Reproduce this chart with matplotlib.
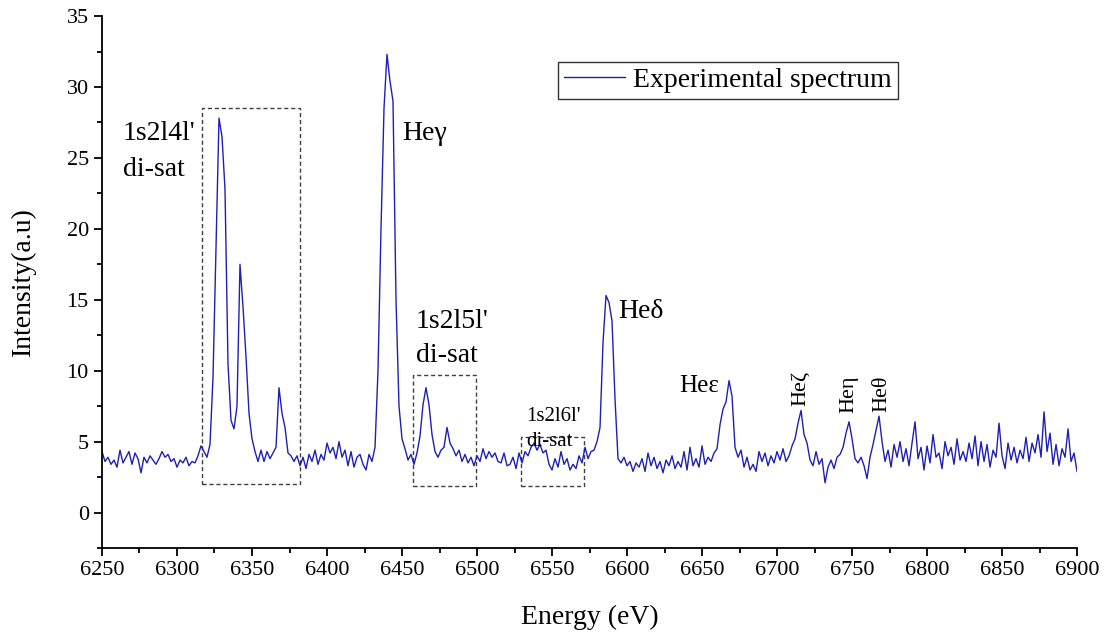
import numpy as np
import matplotlib
matplotlib.use("Agg")
import matplotlib.pyplot as plt
from matplotlib.patches import Rectangle
from matplotlib.ticker import MultipleLocator

plt.rcParams['font.family'] = ['Liberation Serif', 'DejaVu Serif']

# spectrum, 2 eV step starting at 6250 eV
e_start = 6250
e_step = 2
seg_6250 = [4.3, 3.6, 3.9, 3.4, 3.7, 3.2, 4.4, 3.5, 3.9, 4.3,
            3.4, 4.2, 3.8, 2.8, 3.9, 3.5, 4.0, 3.7, 3.4, 3.8,
            4.3, 3.9, 4.1, 3.6, 3.8, 3.2, 3.7, 3.5, 3.9, 3.3,
            3.6, 3.5, 4.0, 4.7]
seg_6318 = [4.3, 3.9, 4.8, 9.5, 18.5, 27.8, 26.5, 22.8, 10.5, 6.5,
            5.9, 7.5, 17.5, 14.5, 11.0, 7.0, 5.2, 4.3, 3.6, 4.4,
            3.6, 4.3, 3.8, 4.2, 4.6, 8.8, 7.0, 6.0, 4.2, 4.0,
            3.6, 4.0]
seg_6382 = [3.3, 3.9, 3.1, 4.1, 3.6, 4.4, 3.4, 4.1, 3.7, 4.9,
            4.2, 4.6, 3.8, 5.0, 3.9, 4.4, 3.3, 4.3, 3.2, 3.9,
            4.1, 3.4, 3.0, 4.1, 3.6, 4.6]
seg_6434 = [10.0, 20.0, 28.5, 32.3, 30.4, 29.0, 15.0, 7.5, 5.2, 4.5,
            3.7, 4.1, 3.4, 4.2, 5.4, 7.6, 8.8, 7.6, 5.5, 4.3,
            3.9, 4.4, 4.6, 6.0, 4.9, 4.5, 4.0, 4.4, 3.6, 4.1,
            3.5]
seg_6496 = [3.9, 3.3, 4.0, 3.6, 4.5, 3.8, 4.3, 3.9, 4.2, 3.6,
            3.5, 4.2, 3.3, 3.4, 3.9, 3.1, 4.2, 3.5]
seg_6532 = [4.3, 4.0, 4.6, 4.9, 4.4, 4.8, 4.2, 4.4, 3.4, 3.0,
            3.8, 3.2, 4.3, 3.4, 3.8, 3.0, 3.4, 3.1, 4.0, 3.5,
            4.6, 3.8, 4.3, 4.4, 5.0, 6.0, 12.0, 15.3, 14.8, 13.5,
            8.0, 3.8, 3.5, 3.9, 3.3, 3.6, 2.9, 3.5]
seg_6608 = [3.2, 3.8, 2.9, 4.2, 3.3, 3.9, 3.1, 3.6, 2.8, 3.7,
            3.3, 4.0, 3.1, 3.6, 3.2, 4.3, 3.0, 4.6, 3.3, 3.8,
            3.2, 4.7, 3.4, 3.9, 3.6, 4.2, 4.5, 6.2, 7.3, 7.8,
            9.3, 8.2, 4.6, 3.9, 4.4, 3.2, 3.9, 3.0, 3.4, 2.9,
            4.3]
seg_6690 = [3.6, 4.2, 3.3, 4.0, 3.5, 4.3, 3.7, 4.5, 3.6, 4.0,
            4.7, 5.2, 6.3, 7.2, 5.5, 4.9, 3.7, 3.3, 4.3, 3.4,
            3.8, 2.1, 3.2, 3.7, 3.1, 3.9, 4.1, 4.6, 5.6, 6.4,
            5.2, 3.8, 3.5, 3.9, 3.3, 2.4, 3.9, 4.8, 5.8, 6.8,
            5.0]
seg_6772 = [3.6, 4.4, 3.2, 4.8, 3.9, 5.0, 3.6, 4.5, 3.3, 4.9,
            6.4, 3.8, 4.6, 3.0, 4.7, 3.5, 5.5, 3.9, 4.2, 3.1,
            5.0, 4.0, 4.6, 3.4, 5.2, 3.7, 4.3, 3.6, 4.9, 3.8,
            5.4, 3.3, 5.0, 3.6, 4.8, 3.2, 4.4, 3.9, 6.3, 4.0,
            3.1, 4.9, 3.7, 4.6, 3.5, 4.4, 3.8, 5.3, 3.6, 4.9,
            4.2, 5.5, 3.9, 7.1, 4.3, 5.6, 3.4, 4.8, 3.3, 4.5,
            3.9, 5.9, 3.6, 4.2, 2.9]

intensity = np.array(seg_6250 + seg_6318 + seg_6382 + seg_6434 + seg_6496
                     + seg_6532 + seg_6608 + seg_6690 + seg_6772)
energy = e_start + e_step * np.arange(len(intensity))

# dashed boxes: (e_min, e_max, i_min, i_max)
box_4l = (6317, 6382, 2.0, 28.5)
box_5l = (6457, 6499, 1.9, 9.7)
box_6l = (6529, 6571, 1.9, 5.3)

fig = plt.figure(figsize=(11.05, 6.34), dpi=100)
ax = fig.add_axes([0.0923, 0.1356, 0.8824, 0.8391])

ax.plot(energy, intensity, color='#1f1fb4', lw=1.0, label='Experimental spectrum')

for (x0, x1, y0, y1) in [box_4l, box_5l, box_6l]:
    ax.add_patch(Rectangle((x0, y0), x1 - x0, y1 - y0, fill=False,
                           ls=(0, (3, 2)), lw=1.0, ec='#404040'))

ax.text(6264, 26.7, "1s2l4l'", fontsize=20, va='center')
ax.text(6264, 24.2, "di-sat", fontsize=20, va='center')
ax.text(6450, 26.7, "Heγ", fontsize=20, va='center')
ax.text(6459, 13.5, "1s2l5l'", fontsize=20, va='center')
ax.text(6459, 11.1, "di-sat", fontsize=20, va='center')
ax.text(6533, 6.8, "1s2l6l'", fontsize=15, va='center')
ax.text(6533, 5.0, "di-sat", fontsize=15, va='center')
ax.text(6594, 14.2, "Heδ", fontsize=20, va='center')
ax.text(6635, 8.9, "Heε", fontsize=18, va='center')
ax.text(6716, 7.5, "Heζ", fontsize=16, rotation=90, ha='center', va='bottom')
ax.text(6748, 7.0, "Heη", fontsize=16, rotation=90, ha='center', va='bottom')
ax.text(6770, 7.1, "Heθ", fontsize=16, rotation=90, ha='center', va='bottom')

ax.set_xlim(6250, 6900)
ax.set_ylim(-2.5, 35)
ax.xaxis.set_major_locator(MultipleLocator(50))
ax.xaxis.set_minor_locator(MultipleLocator(25))
ax.yaxis.set_major_locator(MultipleLocator(5))
ax.yaxis.set_minor_locator(MultipleLocator(2.5))
ax.tick_params(which='major', direction='out', length=6, width=1.3, labelsize=16)
ax.tick_params(which='minor', direction='out', length=3.5, width=1.3)
for s in ['top', 'right']:
    ax.spines[s].set_visible(False)
for s in ['left', 'bottom']:
    ax.spines[s].set_linewidth(1.3)

ax.set_xlabel('Energy (eV)', fontsize=20, labelpad=18)
ax.set_ylabel('Intensity(a.u)', fontsize=20, labelpad=22)

leg = ax.legend(loc='upper left', bbox_to_anchor=(0.468, 0.9135), fontsize=20,
                frameon=True, fancybox=False, borderaxespad=0, handlelength=2.2,
                borderpad=0.2, handletextpad=0.3)
leg.get_frame().set_edgecolor('black')
leg.get_frame().set_linewidth(1.0)

fig.savefig('out.png', dpi=100)
